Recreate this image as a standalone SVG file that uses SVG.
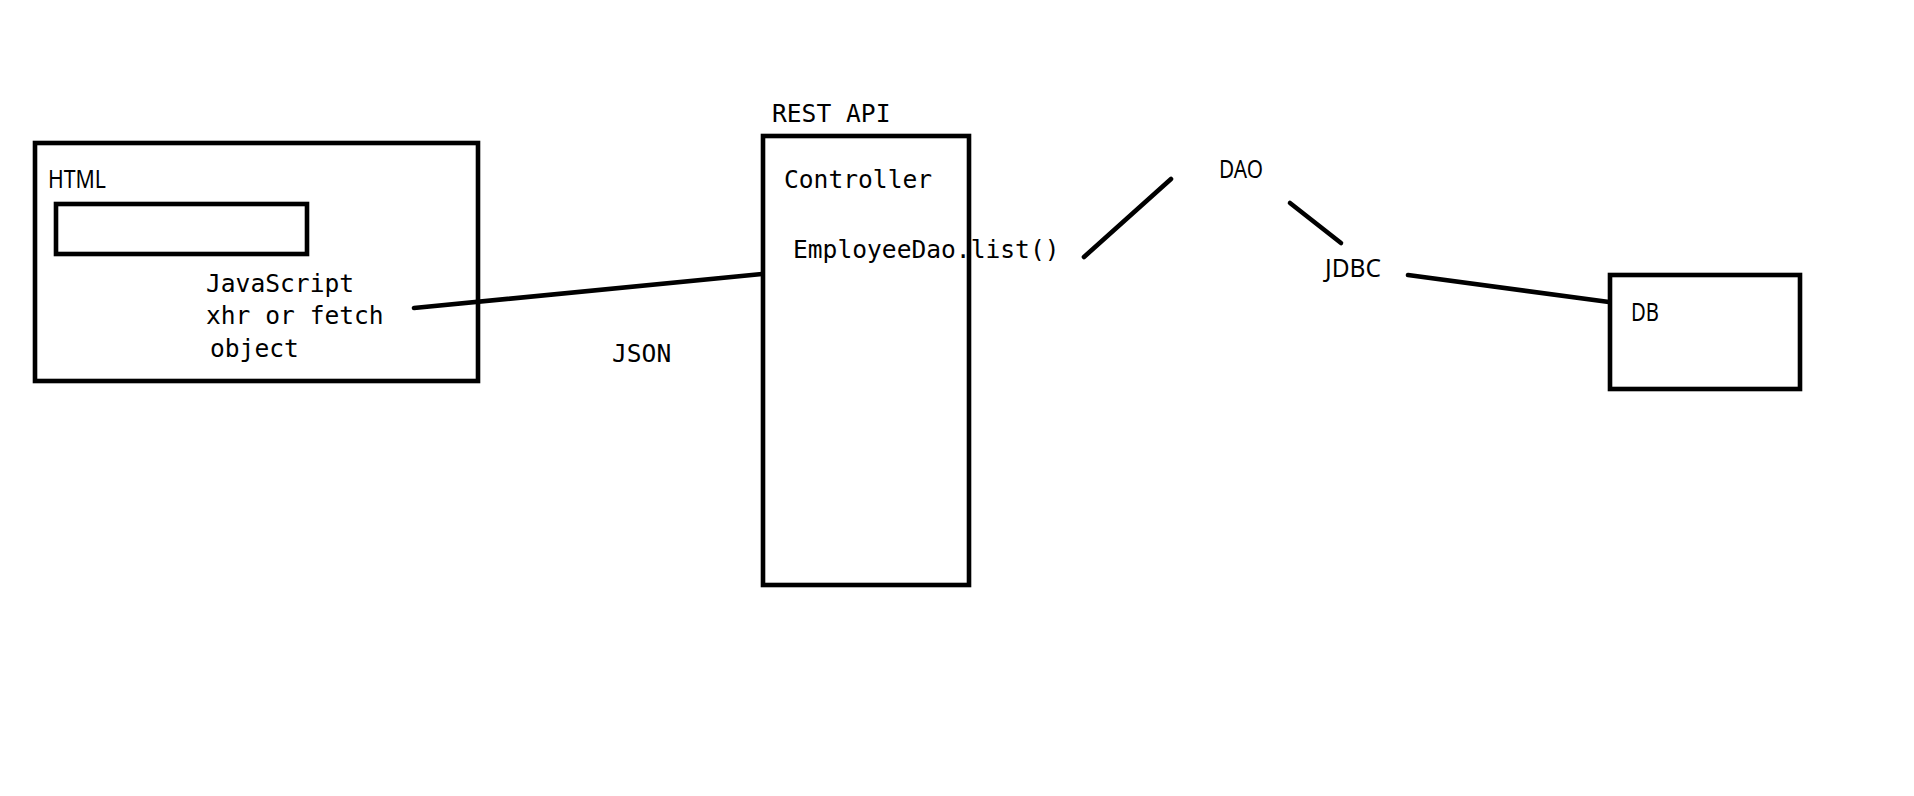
<svg xmlns="http://www.w3.org/2000/svg" width="1914" height="796" viewBox="0 0 1914 796">
<style>
.box{fill:none;stroke:#000;stroke-width:4.6}
.ln{stroke:#000;stroke-width:4.6;stroke-linecap:round;fill:none}
.mono{font-family:"DejaVu Sans Mono","Liberation Mono",monospace;font-size:24.6px;fill:#000}
.sans{font-family:"Noto Sans","Liberation Sans",sans-serif;font-size:25.5px;fill:#000}
</style>
<rect width="1914" height="796" fill="#fff"/>
<g id="html">
<rect class="box" x="35" y="143" width="443" height="238"/>
<rect class="box" x="56" y="204" width="251" height="50"/>
<text class="sans" x="48" y="188" textLength="58" lengthAdjust="spacingAndGlyphs">HTML</text>
<text class="mono" x="206" y="292">JavaScript</text>
<text class="mono" x="206" y="324">xhr or fetch</text>
<text class="mono" x="210" y="357">object</text>
</g>
<g id="rest-api">
<text class="mono" x="772" y="122">REST API</text>
<rect class="box" x="763" y="136" width="206" height="449"/>
<text class="mono" x="784" y="188">Controller</text>
<text class="mono" x="793" y="258">EmployeeDao.list()</text>
</g>
<g id="json">
<text class="mono" x="612" y="362">JSON</text>
</g>
<g id="dao">
<text class="sans" x="1219" y="178" textLength="44" lengthAdjust="spacingAndGlyphs">DAO</text>
</g>
<g id="jdbc">
<text class="sans" x="1325" y="277" textLength="56" lengthAdjust="spacingAndGlyphs">JDBC</text>
</g>
<g id="db">
<rect class="box" x="1610" y="275" width="190" height="114"/>
<text class="sans" x="1631" y="321" textLength="28" lengthAdjust="spacingAndGlyphs">DB</text>
</g>
<g id="connectors">
<line class="ln" x1="414" y1="308" x2="762" y2="274"/>
<line class="ln" x1="1084" y1="257" x2="1171" y2="179"/>
<line class="ln" x1="1290" y1="203" x2="1341" y2="243"/>
<line class="ln" x1="1408" y1="275" x2="1609" y2="302"/>
</g>
</svg>
